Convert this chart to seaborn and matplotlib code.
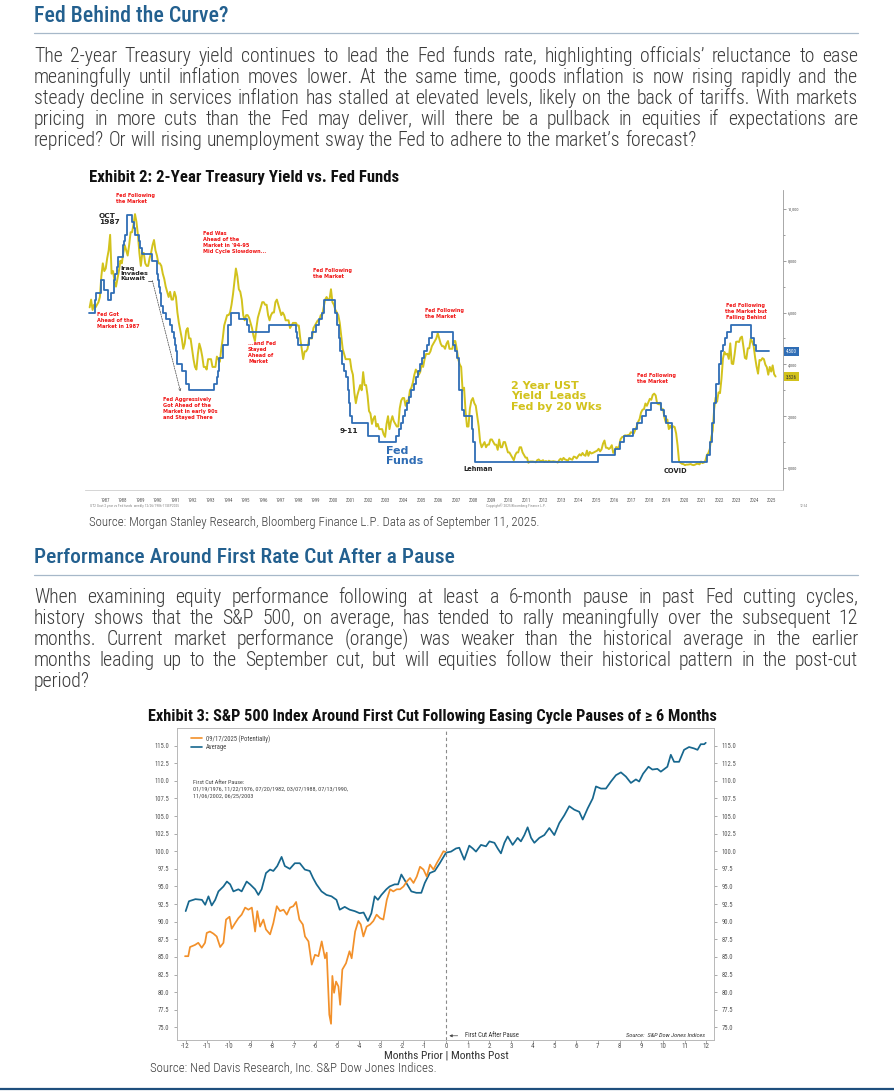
import math
import numpy as np
import matplotlib
matplotlib.use("Agg")
import matplotlib.pyplot as plt
import matplotlib.transforms as mtransforms
import seaborn as sns
from matplotlib import font_manager
from matplotlib.lines import Line2D

# ---------------- page text ----------------
title_1 = "Fed Behind the Curve?"
para_1 = [
    "The 2-year Treasury yield continues to lead the Fed funds rate, highlighting officials\u2019 reluctance to ease",
    "meaningfully until inflation moves lower. At the same time, goods inflation is now rising rapidly and the",
    "steady decline in services inflation has stalled at elevated levels, likely on the back of tariffs. With markets",
    "pricing in more cuts than the Fed may deliver, will there be a pullback in equities if expectations are",
    "repriced? Or will rising unemployment sway the Fed to adhere to the market\u2019s forecast?",
]
exhibit_2 = "Exhibit 2: 2-Year Treasury Yield vs. Fed Funds"
source_1 = "Source: Morgan Stanley Research, Bloomberg Finance L.P. Data as of September 11, 2025."
title_2 = "Performance Around First Rate Cut After a Pause"
para_2 = [
    "When examining equity performance following at least a 6-month pause in past Fed cutting cycles,",
    "history shows that the S&P 500, on average, has tended to rally meaningfully over the subsequent 12",
    "months. Current market performance (orange) was weaker than the historical average in the earlier",
    "months leading up to the September cut, but will equities follow their historical pattern in the post-cut",
    "period?",
]
exhibit_3 = "Exhibit 3: S&P 500 Index Around First Cut Following Easing Cycle Pauses of \u2265 6 Months"
source_2 = "Source: Ned Davis Research, Inc. S&P Dow Jones Indices."

# ---------------- Exhibit 2 data ----------------
# 2-year UST yield, monthly, first value = Aug 1986
ust2y_first_month = (1986, 8)
ust2y_monthly = [
    6.2, 6.5, 6.1, 6.3, 6.2,                                      # 1986
    6.3, 6.4, 6.6, 7.4, 7.9, 7.6, 7.7, 8.1, 8.4, 9.0, 7.5, 7.6,   # 1987
    7.2, 7.0, 7.3, 7.6, 8.0, 7.9, 8.3, 8.6, 8.4, 8.2, 8.6, 9.1,   # 1988
    9.1, 9.4, 9.8, 9.5, 9.0, 8.3, 7.8, 8.3, 8.3, 7.9, 7.8, 7.8,   # 1989
    8.1, 8.3, 8.6, 8.8, 8.4, 8.2, 7.9, 7.9, 7.8, 7.5, 7.3, 7.0,   # 1990
    6.8, 6.6, 6.8, 6.5, 6.5, 6.8, 6.6, 6.0, 5.6, 5.3, 5.0, 4.6,   # 1991
    4.8, 5.3, 5.4, 5.0, 5.0, 4.6, 4.2, 3.9, 3.8, 4.4, 4.8, 4.6,   # 1992
    4.3, 3.9, 3.9, 3.8, 4.2, 4.2, 4.2, 3.9, 3.9, 3.9, 4.3, 4.2,   # 1993
    4.1, 4.6, 5.0, 5.5, 5.7, 5.9, 5.9, 6.0, 6.3, 6.7, 7.2, 7.7,   # 1994
    7.4, 6.9, 6.8, 6.5, 5.9, 5.7, 5.9, 5.9, 5.8, 5.6, 5.4, 5.1,   # 1995
    4.9, 5.4, 5.8, 6.0, 6.2, 6.4, 6.4, 6.3, 6.3, 5.9, 5.7, 5.9,   # 1996
    6.0, 6.0, 6.4, 6.5, 6.3, 6.1, 5.9, 6.0, 5.9, 5.7, 5.7, 5.7,   # 1997
    5.4, 5.5, 5.6, 5.6, 5.6, 5.5, 5.5, 5.0, 4.6, 4.2, 4.5, 4.5,   # 1998
    4.6, 5.0, 5.0, 5.0, 5.4, 5.5, 5.6, 5.7, 5.7, 5.9, 5.9, 6.2,   # 1999
    6.5, 6.6, 6.5, 6.5, 6.9, 6.4, 6.3, 6.1, 6.0, 5.9, 5.6, 5.1,   # 2000
    4.6, 4.4, 4.2, 4.2, 4.2, 4.2, 3.8, 3.6, 2.9, 2.5, 2.8, 3.0,   # 2001
    3.2, 3.0, 3.7, 3.2, 3.2, 2.8, 2.2, 2.1, 1.7, 1.9, 2.0, 1.6,   # 2002
    1.7, 1.5, 1.5, 1.5, 1.3, 1.2, 1.7, 2.0, 1.5, 1.8, 2.0, 1.8,   # 2003
    1.7, 1.6, 1.6, 2.3, 2.6, 2.7, 2.7, 2.4, 2.6, 2.6, 3.0, 3.1,   # 2004
    3.3, 3.6, 3.8, 3.7, 3.6, 3.7, 4.0, 3.9, 4.2, 4.4, 4.4, 4.4,   # 2005
    4.5, 4.7, 4.8, 4.9, 5.0, 5.2, 5.0, 4.8, 4.7, 4.7, 4.6, 4.8,   # 2006
    4.9, 4.6, 4.6, 4.6, 4.9, 4.9, 4.6, 4.2, 4.0, 3.9, 3.0, 3.1,   # 2007
    2.2, 1.6, 1.6, 2.3, 2.6, 2.7, 2.5, 2.4, 2.0, 1.6, 1.0, 0.8,   # 2008
    0.9, 1.0, 0.8, 0.9, 0.9, 1.1, 1.1, 1.0, 0.9, 0.9, 0.7, 1.1,   # 2009
    0.8, 0.8, 1.0, 1.0, 0.8, 0.6, 0.6, 0.5, 0.4, 0.3, 0.5, 0.6,   # 2010
    0.6, 0.8, 0.8, 0.6, 0.5, 0.4, 0.4, 0.2, 0.25, 0.25, 0.25, 0.24,               # 2011
    0.22, 0.30, 0.33, 0.27, 0.27, 0.30, 0.23, 0.27, 0.23, 0.28, 0.25, 0.25,       # 2012
    0.26, 0.25, 0.24, 0.21, 0.30, 0.36, 0.30, 0.39, 0.33, 0.31, 0.28, 0.38,       # 2013
    0.34, 0.32, 0.44, 0.42, 0.37, 0.46, 0.53, 0.48, 0.58, 0.50, 0.47, 0.67,       # 2014
    0.47, 0.62, 0.56, 0.58, 0.61, 0.64, 0.67, 0.74, 0.64, 0.72, 0.94, 1.06,       # 2015
    0.78, 0.78, 0.73, 0.78, 0.88, 0.58, 0.66, 0.81, 0.77, 0.84, 1.11, 1.19,       # 2016
    1.21, 1.26, 1.25, 1.27, 1.28, 1.38, 1.36, 1.33, 1.47, 1.60, 1.78, 1.89,       # 2017
    2.14, 2.25, 2.27, 2.49, 2.40, 2.53, 2.67, 2.63, 2.82, 2.87, 2.80, 2.49,       # 2018
    2.46, 2.52, 2.27, 2.27, 1.95, 1.75, 1.87, 1.50, 1.63, 1.52, 1.61, 1.58,       # 2019
    1.33, 0.86, 0.25, 0.20, 0.16, 0.15, 0.11, 0.13, 0.13, 0.14, 0.15, 0.12,       # 2020
    0.11, 0.13, 0.16, 0.16, 0.14, 0.25, 0.19, 0.21, 0.28, 0.50, 0.57, 0.73,       # 2021
    1.18, 1.44, 2.28, 2.72, 2.56, 2.92, 2.89, 3.45, 4.22, 4.48, 4.38, 4.41,       # 2022
    4.21, 4.81, 4.03, 4.01, 4.40, 4.87, 4.88, 4.86, 5.03, 5.07, 4.68, 4.25,       # 2023
    4.21, 4.62, 4.62, 5.00, 4.87, 4.71, 4.26, 3.91, 3.64, 4.17, 4.15, 4.24,       # 2024
    4.20, 3.99, 3.89, 3.60, 3.90, 3.72, 3.96, 3.62, 3.53,                         # 2025
]

# Fed funds target (upper bound after 2008): date of change -> new level
fed_change_dates = [
    1986.97, 1987.30, 1987.38, 1987.68, 1987.83, 1988.08, 1988.25, 1988.38, 1988.42, 1988.47, 1988.56, 1988.61,
    1988.88, 1988.92, 1988.96, 1989.00, 1989.15, 1989.43, 1989.52, 1989.57, 1989.80, 1989.85, 1989.97,
    1990.54, 1990.83, 1990.87, 1990.93, 1990.96, 1991.03, 1991.09, 1991.19, 1991.33, 1991.60, 1991.70, 1991.83,
    1991.85, 1991.93, 1991.97, 1992.27, 1992.50, 1992.68,
    1994.09, 1994.24, 1994.30, 1994.38, 1994.63, 1994.87, 1995.09, 1995.52, 1995.96, 1996.08, 1997.24, 1998.74,
    1998.80, 1998.88, 1999.49, 1999.65, 1999.88, 2000.09, 2000.22, 2000.38,
    2001.01, 2001.08, 2001.22, 2001.30, 2001.38, 2001.49, 2001.61, 2001.71, 2001.79, 2001.85, 2001.94, 2002.85,
    2003.48, 2004.49, 2004.61, 2004.72, 2004.86, 2004.96,
    2005.09, 2005.22, 2005.34, 2005.49, 2005.61, 2005.72, 2005.84, 2005.96, 2006.08, 2006.24, 2006.36, 2006.49,
    2007.72, 2007.83, 2007.95, 2008.06, 2008.08, 2008.21, 2008.33, 2008.77, 2008.83, 2008.96,
    2015.96, 2016.96, 2017.21, 2017.46, 2017.96, 2018.22, 2018.46, 2018.73, 2018.97, 2019.58, 2019.72, 2019.83,
    2020.17, 2020.21,
    2022.21, 2022.34, 2022.46, 2022.57, 2022.72, 2022.84, 2022.96, 2023.09, 2023.22, 2023.34, 2023.57, 2024.71,
    2024.85, 2024.96,
]
fed_levels = [
    6.0, 6.5, 6.75, 7.25, 6.875, 6.5, 6.75, 7.0, 7.25, 7.5, 7.75, 8.125,
    8.25, 8.625, 8.75, 9.0, 9.75, 9.5, 9.25, 9.0, 8.75, 8.5, 8.25,
    8.0, 7.75, 7.5, 7.25, 7.0, 6.75, 6.25, 6.0, 5.75, 5.5, 5.25, 5.0,
    4.75, 4.5, 4.0, 3.75, 3.25, 3.0,
    3.25, 3.5, 3.75, 4.25, 4.75, 5.5, 6.0, 5.75, 5.5, 5.25, 5.5, 5.25,
    5.0, 4.75, 5.0, 5.25, 5.5, 5.75, 6.0, 6.5,
    6.0, 5.5, 5.0, 4.5, 4.0, 3.75, 3.5, 3.0, 2.5, 2.0, 1.75, 1.25,
    1.0, 1.25, 1.5, 1.75, 2.0, 2.25,
    2.5, 2.75, 3.0, 3.25, 3.5, 3.75, 4.0, 4.25, 4.5, 4.75, 5.0, 5.25,
    4.75, 4.5, 4.25, 3.5, 3.0, 2.25, 2.0, 1.5, 1.0, 0.25,
    0.5, 0.75, 1.0, 1.25, 1.5, 1.75, 2.0, 2.25, 2.5, 2.25, 2.0, 1.75,
    1.25, 0.25,
    0.5, 1.0, 1.75, 2.5, 3.25, 4.0, 4.5, 4.75, 5.0, 5.25, 5.5, 5.0,
    4.75, 4.5,
]
fed_data_end = 2025.69
FED_LEAD_WEEKS = 20          # Fed funds drawn 20 weeks earlier
yield_ticks = [0, 2, 4, 6, 8, 10]
chart_years = list(range(1987, 2026))

# ---------------- Exhibit 3 data ----------------
avg_months = [
    -12.0, -11.85, -11.55, -11.25, -11.1, -10.95, -10.8, -10.64, -10.49, -10.26, -10.1, -9.95, -9.8, -9.57,
    -9.42, -9.19, -9.03, -8.8, -8.65, -8.5, -8.3, -8.11, -7.96, -7.78, -7.58, -7.43, -7.2, -6.97, -6.74,
    -6.51, -6.28, -6.13, -5.97, -5.74, -5.51, -5.28, -5.05, -4.9, -4.67, -4.44, -4.21, -3.98, -3.8, -3.6,
    -3.44, -3.29, -3.14, -2.98, -2.75, -2.6, -2.37, -2.21, -2.06, -1.83, -1.6, -1.37, -1.14, -0.98, -0.75,
    -0.52, -0.29, 0.0,
    0.23, 0.46, 0.61, 0.84, 1.07, 1.23, 1.38, 1.61, 1.84, 2.0, 2.23, 2.38, 2.53, 2.69, 2.84, 3.07, 3.3,
    3.45, 3.61, 3.76, 3.92, 4.07, 4.3, 4.53, 4.76, 4.99, 5.22, 5.45, 5.68, 5.91, 6.14, 6.3, 6.53, 6.76,
    6.91, 7.14, 7.37, 7.6, 7.83, 8.06, 8.29, 8.52, 8.75, 8.9, 9.08, 9.33, 9.51, 9.74, 9.9, 10.2, 10.36,
    10.51, 10.74, 10.97, 11.2, 11.43, 11.59, 11.74, 11.9, 11.97,
]
avg_index = [
    91.5, 92.9, 93.2, 93.1, 92.4, 93.6, 92.3, 93.1, 94.3, 95.0, 95.7, 95.3, 94.3, 94.6,
    94.3, 95.7, 95.3, 94.6, 93.8, 94.6, 96.9, 97.4, 97.2, 97.9, 99.2, 97.9, 97.5, 98.3, 98.3,
    97.4, 97.2, 96.2, 95.3, 94.3, 93.8, 93.6, 93.1, 91.7, 92.1, 91.7, 91.5, 91.2, 91.3, 90.1,
    91.2, 93.6, 93.1, 93.8, 94.6, 95.0, 95.3, 95.3, 96.7, 95.5, 94.3, 94.1, 94.1, 95.5, 96.9,
    97.2, 98.3, 99.8,
    99.95, 100.4, 100.5, 98.8, 100.8, 100.4, 99.95, 100.9, 100.7, 101.4, 101.2, 100.4, 99.7, 101.2, 102.1,
    100.9, 101.9, 101.4, 102.3, 103.4, 101.9, 101.2, 101.9, 102.3, 103.3, 102.3, 104.0, 105.1, 106.4, 105.9,
    105.6, 104.5, 106.1, 107.5, 109.2, 108.9, 108.9, 109.9, 110.8, 111.2, 110.6, 109.7, 110.2, 109.9, 111.0,
    112.0, 111.6, 111.7, 111.3, 112.0, 113.7, 112.7, 112.7, 114.4, 114.8, 114.6, 114.4, 115.2, 115.2, 115.4,
]
cur_months = [
    -12.03, -11.88, -11.8, -11.57, -11.42, -11.26, -11.11, -11.03, -10.88, -10.72, -10.57, -10.41, -10.26,
    -10.14, -9.98, -9.88, -9.72, -9.57, -9.42, -9.26, -9.11, -8.95, -8.8, -8.7, -8.57, -8.42, -8.3, -8.11,
    -7.96, -7.8, -7.65, -7.49, -7.34, -7.19, -7.04, -6.91, -6.76, -6.6, -6.5, -6.34, -6.19, -6.04, -5.88,
    -5.73, -5.58, -5.5, -5.38, -5.3, -5.24, -5.16, -5.07, -4.96, -4.88, -4.78, -4.61, -4.45, -4.35, -4.19,
    -4.04, -3.93, -3.81, -3.66, -3.5, -3.35, -3.2, -3.04, -2.89, -2.73, -2.58, -2.43, -2.27, -2.12, -1.96,
    -1.81, -1.66, -1.5, -1.35, -1.2, -1.04, -0.89, -0.74, -0.58, -0.43, -0.28, -0.12, -0.03,
]
cur_index = [
    85.1, 85.1, 86.4, 86.7, 87.0, 86.3, 87.0, 88.4, 88.6, 88.3, 87.9, 86.4, 87.0,
    90.3, 90.7, 89.0, 89.8, 90.5, 91.0, 92.0, 91.7, 92.0, 88.6, 91.5, 89.3, 90.3, 88.9, 88.2,
    89.8, 92.2, 91.5, 91.7, 91.0, 92.0, 92.2, 92.8, 90.3, 89.6, 87.9, 87.2, 83.9, 85.3, 85.1,
    87.2, 84.8, 85.6, 76.8, 75.5, 82.3, 79.9, 81.5, 80.8, 78.2, 83.2, 84.1, 85.8, 84.8, 88.6,
    90.1, 89.6, 87.9, 89.3, 89.6, 90.1, 91.0, 90.5, 90.3, 93.1, 94.6, 94.3, 94.6, 94.6, 95.0,
    95.7, 96.2, 95.5, 96.4, 97.8, 97.4, 96.4, 98.1, 97.4, 98.3, 99.1, 100.0, 99.9,
]
sp_yticks = [75.0, 77.5, 80.0, 82.5, 85.0, 87.5, 90.0, 92.5, 95.0, 97.5, 100.0, 102.5, 105.0,
             107.5, 110.0, 112.5, 115.0]
sp_xticks = list(range(-12, 13))
cut_dates_note = "First Cut After Pause:\n01/19/1976, 11/22/1976, 07/20/1982, 03/07/1988, 07/13/1990,\n11/06/2002, 06/25/2003"

# ---------------- colours ----------------
HEAD_BLUE = "#23608f"
BODY_CLR = "#3a3a3a"
GOLD = "#d2c21c"
FED_BLUE = "#2f6db5"
RED = "#f01414"
TEAL = "#17678e"
ORANGE = "#f2902a"

# ---------------- fonts ----------------
sns.set_theme(style="white")
installed = {f.name for f in font_manager.fontManager.ttflist}


def pick(*names):
    for n in names:
        if n in installed:
            return n
    return "DejaVu Sans"


BODY_FONT = pick("Roboto Condensed", "Liberation Sans Narrow", "Roboto")
plt.rcParams["font.family"] = [BODY_FONT, "DejaVu Sans"]
plt.rcParams["axes.unicode_minus"] = False
ANNO = dict(family=["DejaVu Sans"], fontweight="bold")
BODY_W = "light"

W, H = 894, 1091
fig = plt.figure(figsize=(W / 100, H / 100), dpi=100)
fig.patch.set_facecolor("white")
renderer = fig.canvas.get_renderer()

# page-level axes in pixel units for running text
page = fig.add_axes([0, 0, 1, 1])
page.set_xlim(0, W)
page.set_ylim(H, 0)
page.axis("off")


def measure(t):
    return t.get_window_extent(renderer).width


def fit_text(x, y, s, width, **kw):
    t = page.text(x, y, s, fontsize=10, va="baseline", **kw)
    t.set_fontsize(10 * width / measure(t))
    return t


probe = page.text(0, 0, "", fontsize=10, fontweight=BODY_W)


def natural(s, size=10):
    probe.set_fontsize(size)
    probe.set_text(s)
    return measure(probe)


def baseline_shift(t, base):
    # Agg rounds each text bitmap separately; compute that rounding so that
    # all words of a line end up on the same pixel baseline
    _, h, d = renderer.get_text_width_height_descent(t.get_text(), t.get_fontproperties(), ismath=False)
    h26, d26 = int(round(h * 64)), int(round(d * 64))
    return round(base + d26 / 64.0) - base - h26 // 64 + (h26 - d26) // 64


def justify(lines, first_base, size, x0=34, x1=858, step=21):
    space = natural("| |", size) - natural("||", size)
    for i, line in enumerate(lines):
        base = first_base + i * step
        words = line.split(" ")
        arts = [page.text(0, base, w, fontsize=size, color=BODY_CLR, va="baseline", fontweight=BODY_W)
                for w in words]
        widths = [measure(a) for a in arts]
        if i == len(lines) - 1 or len(words) == 1:
            gap = space
        else:
            gap = (x1 - x0 - sum(widths)) / (len(words) - 1)
        x = x0
        for a, w in zip(arts, widths):
            a.set_x(x)
            a.set_y(base - baseline_shift(a, base))
            x += w + gap


size_a = 10 * 824 * 0.985 / max(natural(l) for l in para_1[:-1] + para_2[:-1])
size_b = 10 * (697 - 34) / natural(para_1[-1])
body_size = min(size_a, size_b)

# headings, rules and paragraphs
fit_text(34, 22, title_1, 194, color=HEAD_BLUE, fontweight="medium")
page.plot([34, 858], [33, 33], color="#a7b8c9", lw=0.9)
justify(para_1, 62, body_size)
fit_text(89, 182, exhibit_2, 311, color="#111111", fontweight="bold")
fit_text(89, 526, source_1, 450, color=BODY_CLR, fontweight=BODY_W)
fit_text(34, 563, title_2, 418, color=HEAD_BLUE, fontweight="medium")
page.plot([34, 858], [575, 575], color="#a7b8c9", lw=0.9)
justify(para_2, 603, body_size)
fit_text(148, 721, exhibit_3, 568, color="#111111", fontweight="bold")
fit_text(150, 1071, source_2, 287, color=BODY_CLR, fontweight=BODY_W)
page.plot([0, W], [1089, 1089], color="#1f4f7d", lw=1.6)
probe.remove()


def px_rect(left, top, right, bottom):
    return [left / W, 1 - bottom / H, (right - left) / W, (bottom - top) / H]


# ---------------- Exhibit 2 ----------------
ax1 = fig.add_axes(px_rect(85, 190, 783, 490))
ust_x = ust2y_first_month[0] + (ust2y_first_month[1] - 0.5) / 12 + np.arange(len(ust2y_monthly)) / 12
lead = FED_LEAD_WEEKS / 52.18
fed_x = list(np.array(fed_change_dates) - lead) + [fed_data_end - lead]
fed_y = fed_levels + [fed_levels[-1]]

sns.lineplot(x=ust_x, y=ust2y_monthly, ax=ax1, color=GOLD, lw=1.4, estimator=None, sort=False)
sns.lineplot(x=fed_x, y=fed_y, ax=ax1, color=FED_BLUE, lw=1.3, estimator=None, sort=False,
             drawstyle="steps-post")
ax1.set_xlim(1986.36, 2026.13)
ax1.set_ylim(-0.85, 10.73)
ax1.set_xlabel("")
ax1.set_ylabel("")
for side in ["left", "top"]:
    ax1.spines[side].set_visible(False)
ax1.spines["right"].set_color("#9a9a9a")
ax1.spines["right"].set_linewidth(0.6)
ax1.spines["bottom"].set_color("#cfcfcf")
ax1.spines["bottom"].set_linewidth(0.6)

ax1.set_xticks([y + 0.5 for y in chart_years])
ax1.set_xticklabels([str(y) for y in chart_years])
ax1.set_xticks(chart_years + [2026], minor=True)
ax1.tick_params(axis="x", which="major", length=0, labelsize=3.4, pad=5.5, labelcolor="#555555")
ax1.tick_params(axis="x", which="minor", length=9, width=0.5, color="#cfcfcf", direction="out")
ax1.yaxis.tick_right()
ax1.set_yticks(yield_ticks)
ax1.set_yticklabels([f"{v:.3f}".replace(".", ",") for v in yield_ticks])
ax1.set_yticks([1, 3, 5, 7, 9], minor=True)
ax1.tick_params(axis="y", which="both", right=True, left=False, length=2, width=0.5, color="#777777",
                labelsize=3.2, pad=1.5, labelcolor="#555555")
ax1.tick_params(axis="y", which="minor", length=1.3)

edge = mtransforms.blended_transform_factory(ax1.transAxes, ax1.transData)
ax1.text(1.004, 4.5, "4,500", transform=edge, fontsize=3.6, color="white", va="center", ha="left",
         bbox=dict(boxstyle="square,pad=0.45", fc=FED_BLUE, ec="none"))
ax1.text(1.004, 3.526, "3,526", transform=edge, fontsize=3.6, color="#333333", va="center", ha="left",
         bbox=dict(boxstyle="square,pad=0.45", fc=GOLD, ec="none"))

# chart annotations
red = dict(color=RED, fontsize=3.6, va="top", ha="left", linespacing=1.25, **ANNO)
ax1.text(1988.13, 10.62, "Fed Following\nthe Market", **red)
ax1.text(1987.16, 9.85, "OCT\n1987", color="#222222", fontsize=5.3, va="top", linespacing=1.05, **ANNO)
ax1.text(1993.08, 9.15, "Fed Was\nAhead of the\nMarket in '94-95\nMid Cycle Slowdown...", **red)
ax1.text(1988.35, 7.8, "Iraq\nInvades\nKuwait", color="#222222", fontsize=4.6, va="top", linespacing=1.0, **ANNO)
ax1.plot([1989.95, 1990.2], [7.23, 7.23], color="#333333", lw=0.5)
ax1.annotate("", xy=(1991.8, 2.95), xytext=(1990.2, 7.23),
             arrowprops=dict(arrowstyle="->", ls=(0, (2, 1.5)), lw=0.5, color="#444444",
                             shrinkA=0, shrinkB=0, mutation_scale=4))
ax1.text(1987.04, 6.02, "Fed Got\nAhead of the\nMarket in 1987", **red)
ax1.text(1999.35, 7.72, "Fed Following\nthe Market", **red)
ax1.text(2005.73, 6.18, "Fed Following\nthe Market", **red)
ax1.text(1995.65, 4.9, "...and Fed\nStayed\nAhead of\nMarket", **red)
ax1.text(1990.8, 2.74, "Fed Aggressively\nGot Ahead of the\nMarket in early 90s\nand Stayed There", **red)
ax1.text(2000.89, 1.43, "9-11", color="#222222", fontsize=5.3, va="center", **ANNO)
ax1.text(2003.51, 0.85, "Fed\nFunds", color=FED_BLUE, fontsize=8, va="top", linespacing=1.05, **ANNO)
ax1.text(2007.9, -0.04, "Lehman", color="#222222", fontsize=4.8, va="center", **ANNO)
ax1.text(2010.63, 3.36, "2 Year UST\nYield  Leads\nFed by 20 Wks", color=GOLD, fontsize=8, va="top",
         linespacing=1.05, **ANNO)
ax1.text(2017.8, 3.67, "Fed Following\nthe Market", **red)
ax1.text(2019.35, -0.12, "COVID", color="#222222", fontsize=4.8, va="center", **ANNO)
ax1.text(2024.02, 6.37, "Fed Following\nthe Market but\nFalling Behind", color=RED, fontsize=3.6, va="top",
         ha="center", linespacing=1.25, **ANNO)

page.text(90, 506, "GT2 Govt 2 year vs Fed funds  weekly 12/26/1986-11SEP2025", fontsize=2.6, color="#888888",
          va="center")
page.text(486, 506, "Copyright\u00a9 2025 Bloomberg Finance L.P.", fontsize=2.6, color="#888888", va="center")
page.text(800, 506, "12:54", fontsize=2.6, color="#888888", va="center")

# ---------------- Exhibit 3 ----------------
ax2 = fig.add_axes(px_rect(177, 728, 714, 1040))
sns.lineplot(x=avg_months, y=avg_index, ax=ax2, color=TEAL, lw=1.25, estimator=None, sort=False)
sns.lineplot(x=cur_months, y=cur_index, ax=ax2, color=ORANGE, lw=1.25, estimator=None, sort=False)
ax2.set_xlim(-12.4, 12.35)
ax2.set_ylim(73.2, 117.5)
ax2.set_xlabel("")
ax2.set_ylabel("")
ax2.axvline(0, color="#8a8a8a", lw=0.8, ls=(0, (3, 2.5)), zorder=1)
ax2.set_xticks(sp_xticks)
ax2.set_xticklabels([str(m) for m in sp_xticks])
ax2.set_yticks(sp_yticks)
ax2.set_yticklabels([f"{v:.1f}" for v in sp_yticks])
ax2.tick_params(axis="y", left=True, right=True, labelleft=True, labelright=True, length=2.5, width=0.5,
                color="#888888", labelsize=4.8, labelcolor="#555555", pad=3)
ax2.tick_params(axis="x", bottom=True, length=2, width=0.5, color="#888888", labelsize=5,
                labelcolor="#555555", pad=0.5)
for s in ax2.spines.values():
    s.set_color("#b8b8b8")
    s.set_linewidth(0.7)

handles = [Line2D([0], [0], color=ORANGE, lw=1.2), Line2D([0], [0], color=TEAL, lw=1.2)]
ax2.legend(handles, ["09/17/2025 (Potentially)", "Average"], loc="upper left", bbox_to_anchor=(0.026, 0.979),
           frameon=False, fontsize=4.8, handlelength=1.7, handletextpad=0.6, labelspacing=0.25,
           borderpad=0, borderaxespad=0, labelcolor="#444444")

ax2.text(-11.66, 110.1, cut_dates_note, fontsize=4.4, color="#444444", va="top", linespacing=1.45)
ax2.annotate("First Cut After Pause", xy=(0.15, 73.8), xytext=(0.88, 73.8), fontsize=4.8, color="#333333",
             va="center", ha="left",
             arrowprops=dict(arrowstyle="-|>", color="#444444", lw=0.5, mutation_scale=4,
                             relpos=(0, 0.5), shrinkA=3, shrinkB=0))
ax2.text(11.94, 73.8, "Source:  S&P Dow Jones Indices", fontsize=4.6, color="#333333", style="italic",
         va="center", ha="right")
fit_text(446, 1059, "Months Prior | Months Post", 124, color="#333333", ha="center")

fig.savefig("out.png", dpi=100)
